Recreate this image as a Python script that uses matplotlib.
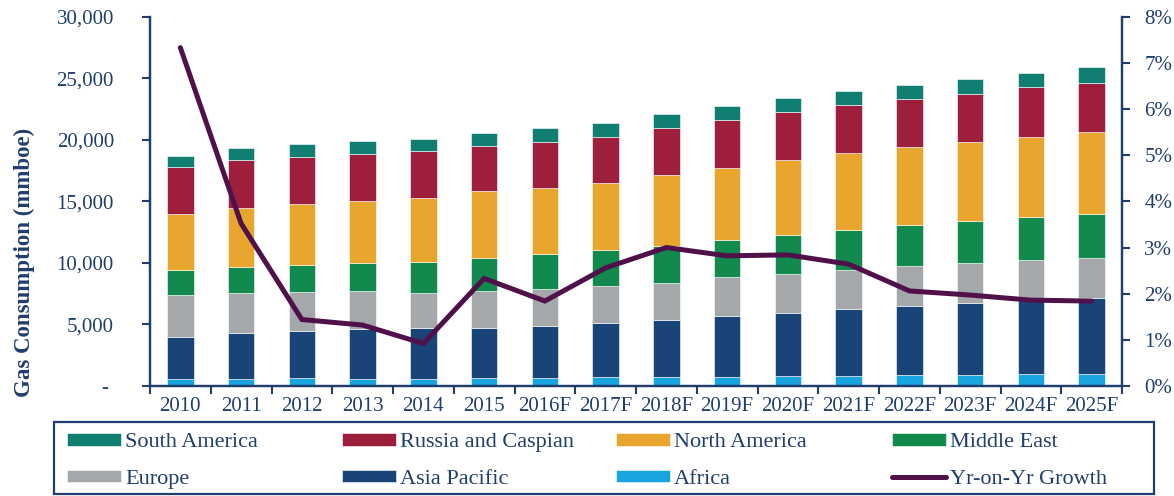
import numpy as np
import matplotlib.pyplot as plt
from matplotlib.ticker import FuncFormatter, FixedLocator
from matplotlib.patches import Rectangle

plt.rcParams['font.family'] = ['Liberation Serif', 'DejaVu Serif']

# gas consumption by region (mmboe)
years = ["2010", "2011", "2012", "2013", "2014", "2015", "2016F", "2017F",
         "2018F", "2019F", "2020F", "2021F", "2022F", "2023F", "2024F", "2025F"]
africa = [540, 570, 620, 600, 600, 620, 680, 700, 730, 760, 810, 840, 890, 920, 950, 970]
asia_pacific = [3410, 3710, 3870, 4030, 4090, 4120, 4220, 4440, 4630, 4900, 5150, 5420, 5610, 5820, 6120, 6200]
europe = [3440, 3250, 3120, 3060, 2850, 2980, 2980, 3000, 3030, 3170, 3170, 3170, 3250, 3250, 3170, 3250]
middle_east = [2030, 2140, 2220, 2330, 2510, 2650, 2840, 2900, 3010, 3060, 3140, 3250, 3300, 3410, 3470, 3550]
north_america = [4550, 4820, 4960, 5010, 5230, 5470, 5390, 5450, 5740, 5850, 6090, 6260, 6360, 6390, 6500, 6630]
russia_caspian = [3790, 3870, 3820, 3820, 3770, 3650, 3680, 3740, 3840, 3870, 3870, 3900, 3900, 3950, 4040, 4030]
south_america = [940, 1000, 1030, 1050, 1030, 1030, 1140, 1110, 1110, 1110, 1140, 1160, 1140, 1190, 1190, 1250]
# year-on-year growth (%)
yoy_growth = [7.33, 3.52, 1.44, 1.32, 0.92, 2.33, 1.84, 2.56, 3.00, 2.82, 2.84, 2.64, 2.06, 1.97, 1.86, 1.84]

navy = "#1F3E6E"
series = [
    ("Africa", africa, "#17A4DF"),
    ("Asia Pacific", asia_pacific, "#184477"),
    ("Europe", europe, "#A4A8AB"),
    ("Middle East", middle_east, "#128A4E"),
    ("North America", north_america, "#E8A62F"),
    ("Russia and Caspian", russia_caspian, "#9E1F3C"),
    ("South America", south_america, "#117E72"),
]

W, H = 1174, 496
fig = plt.figure(figsize=(W / 100, H / 100), dpi=100)
ax = fig.add_axes([150 / W, 1 - 386 / H, 972 / W, 369.3 / H])
ax2 = ax.twinx()

x = np.arange(len(years))
bottom = np.zeros(len(years))
bars = {}
for name, vals, col in series:
    bars[name] = ax.bar(x, vals, width=0.44, bottom=bottom, color=col,
                        edgecolor="white", linewidth=0.4, label=name)
    bottom += np.array(vals)

line, = ax2.plot(x, yoy_growth, color="#50104A", linewidth=3.6,
                 solid_joinstyle="miter", solid_capstyle="round",
                 label="Yr-on-Yr Growth")

ax.set_xlim(-0.5, len(years) - 0.5)
ax.set_ylim(0, 30000)
ax.set_yticks(np.arange(0, 30001, 5000))
ax.yaxis.set_major_formatter(FuncFormatter(lambda v, p: "- " if v == 0 else f"{int(v):,}"))
ax2.set_ylim(0, 8)
ax2.set_yticks(np.arange(0, 9))
ax2.yaxis.set_major_formatter(FuncFormatter(lambda v, p: f"{int(v)}%"))

ax.set_xticks(x)
ax.set_xticklabels(years)
ax.xaxis.set_minor_locator(FixedLocator(np.arange(-0.5, len(years), 1)))
ax.tick_params(axis="x", which="major", length=0, pad=8)
ax.tick_params(axis="x", which="minor", length=6, width=1.5, color=navy)

for a in (ax, ax2):
    for s in a.spines.values():
        s.set_color(navy)
        s.set_linewidth(1.6)
    a.spines["top"].set_visible(False)
    a.tick_params(axis="both", labelsize=15, labelcolor=navy, colors=navy)
ax.tick_params(axis="y", length=6, width=1.5, pad=20)
ax2.tick_params(axis="y", length=6, width=1.5, pad=10)

ax.set_ylabel("Gas Consumption (mmboe)", fontsize=16.5, fontweight="bold", color=navy)
ax.yaxis.set_label_coords(-0.118, 0.335)

# legend: one column at a time so the columns sit on an even pitch
columns = [
    ("South America", "Europe"),
    ("Russia and Caspian", "Asia Pacific"),
    ("North America", "Africa"),
    ("Middle East", "Yr-on-Yr Growth"),
]
col_x = [63, 338, 612, 888]
for cx, names in zip(col_x, columns):
    hs = [line if n == "Yr-on-Yr Growth" else bars[n] for n in names]
    leg = fig.legend(hs, names, loc="center left",
                     bbox_to_anchor=(cx / W, 1 - 461 / H),
                     fontsize=16, frameon=False, handlelength=2.4,
                     handleheight=0.5, handletextpad=0.2,
                     labelspacing=0.78, borderaxespad=0, borderpad=0.2)
    for t in leg.get_texts():
        t.set_color(navy)

fig.patches.append(Rectangle((54 / W, 1 - 494 / H), 1100 / W, 72 / H,
                             transform=fig.transFigure, fill=False,
                             edgecolor=navy, linewidth=1.6))

fig.savefig("out.png", dpi=100)
